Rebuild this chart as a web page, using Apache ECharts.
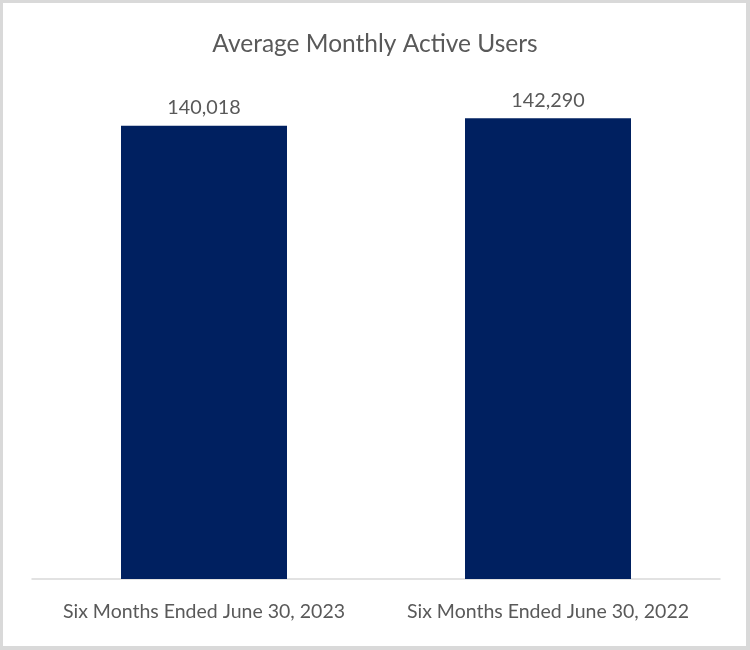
<!DOCTYPE html>
<html>
<head>
<meta charset="utf-8">
<script src="https://cdn.jsdelivr.net/npm/echarts@6/dist/echarts.min.js"></script>
<style>
html,body{margin:0;padding:0;background:#d9d9d9;}
#frame{position:absolute;left:3px;top:3px;width:743px;height:643px;background:#fff;}
#chart{position:absolute;left:-3px;top:-3px;width:750px;height:650px;}
</style>
</head>
<body>
<div id="frame"><div id="chart"></div></div>
<script>
var categories = ["Six Months Ended June 30, 2023", "Six Months Ended June 30, 2022"];
var values = [140018, 142290];
var titleText = "Average Monthly Active Users";

var chart = echarts.init(document.getElementById('chart'));
var font = 'Lato, "Open Sans", sans-serif';
chart.setOption({
  animation: false,
  title: {
    text: titleText, left: 'center', top: 27,
    textStyle: {fontFamily: font, fontSize: 24.5, fontWeight: 'normal', color: '#595959'}
  },
  grid: {left: 32, right: 30, top: 61, bottom: 71},
  xAxis: {
    type: 'category', data: categories,
    axisLine: {lineStyle: {color: '#d9d9d9', width: 1.5}},
    axisTick: {show: false},
    axisLabel: {interval: 0, fontFamily: font, fontSize: 19.5, color: '#595959', margin: 23}
  },
  yAxis: {
    type: 'value', min: 0, max: 160000, show: false,
    splitLine: {show: false}
  },
  series: [{
    type: 'bar', data: values, barWidth: 166,
    itemStyle: {color: '#002060'},
    label: {
      show: true, position: 'top', distance: 8,
      fontFamily: font, fontSize: 19.8, color: '#595959',
      formatter: function(p){ return p.value.toLocaleString('en-US'); }
    }
  }]
});
</script>
</body>
</html>
